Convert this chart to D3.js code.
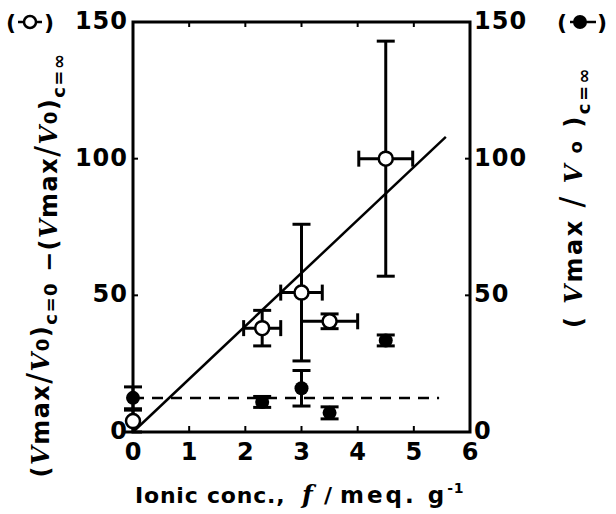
<!DOCTYPE html>
<html>
<head>
<meta charset="utf-8">
<script src="https://cdn.jsdelivr.net/npm/d3@7"></script>
<style>
  body { margin: 0; background: #fff; }
  text { font-family: "DejaVu Sans", sans-serif; font-weight: bold; fill: #000; }
</style>
</head>
<body>
<div id="chart"></div>
<script>
// ionic concentration (meq/g)
var openX    = [0, 2.3, 3.0, 3.5, 4.5];
var openY    = [4, 38, 51, 40.5, 100];
var openYErr = [4, 6.5, 25, 2.7, 43];
var openXErr = [0, 0.33, 0.37, 0.5, 0.48];

var fillX    = [0, 2.3, 3.0, 3.5, 4.5];
var fillY    = [12.5, 11, 16, 7, 33.5];
var fillYErr = [4, 2, 6.5, 2.2, 2];

var fitLine  = [[0, 0], [5.57, 108]];
var meanLine = [[0, 12.4], [5.45, 12.4]];

var xTicks = [0, 1, 2, 3, 4, 5, 6];
var yTicks = [0, 50, 100, 150];

function init(){
    var w = 616, h = 514;

    var x = d3.scaleLinear().domain([0, 6]).range([133, 470]);
    var y = d3.scaleLinear().domain([0, 150]).range([432, 22]);

    var svg = d3.select("#chart").append("svg")
                .attr("width", w)
                .attr("height", h);

    // frame
    svg.append("rect")
        .attr("x", x(0)).attr("y", y(150))
        .attr("width", x(6) - x(0)).attr("height", y(0) - y(150))
        .attr("fill", "none").attr("stroke", "#000").attr("stroke-width", 3);

    // inward ticks
    var inner = xTicks.filter(function(d){ return d > 0 && d < 6; });
    svg.selectAll("line.xb").data(inner).enter().append("line")
        .attr("x1", function(d){ return x(d); }).attr("x2", function(d){ return x(d); })
        .attr("y1", y(0)).attr("y2", y(0) - 6)
        .attr("stroke", "#000").attr("stroke-width", 2);
    svg.selectAll("line.xt").data(inner).enter().append("line")
        .attr("x1", function(d){ return x(d); }).attr("x2", function(d){ return x(d); })
        .attr("y1", y(150)).attr("y2", y(150) + 5)
        .attr("stroke", "#000").attr("stroke-width", 2);
    var yin = yTicks.filter(function(d){ return d > 0 && d < 150; });
    svg.selectAll("line.yl").data(yin).enter().append("line")
        .attr("x1", x(0)).attr("x2", x(0) + 5)
        .attr("y1", function(d){ return y(d); }).attr("y2", function(d){ return y(d); })
        .attr("stroke", "#000").attr("stroke-width", 2);
    svg.selectAll("line.yr").data(yin).enter().append("line")
        .attr("x1", x(6)).attr("x2", x(6) - 5)
        .attr("y1", function(d){ return y(d); }).attr("y2", function(d){ return y(d); })
        .attr("stroke", "#000").attr("stroke-width", 2);

    // tick labels
    svg.selectAll("text.xl").data(xTicks).enter().append("text")
        .attr("x", function(d){ return x(d); }).attr("y", 460)
        .attr("text-anchor", "middle").attr("font-size", 24)
        .text(function(d){ return d; });
    svg.selectAll("text.ylL").data(yTicks).enter().append("text")
        .attr("x", x(0) - 5).attr("y", function(d){ return y(d) + 7; })
        .attr("text-anchor", "end").attr("font-size", 24).attr("letter-spacing", 1)
        .text(function(d){ return d; });
    svg.selectAll("text.ylR").data(yTicks).enter().append("text")
        .attr("x", x(6) + 4).attr("y", function(d){ return y(d) + 7; })
        .attr("text-anchor", "start").attr("font-size", 24).attr("letter-spacing", 1)
        .text(function(d){ return d; });

    var line = d3.line()
        .x(function(d){ return x(d[0]); })
        .y(function(d){ return y(d[1]); });

    svg.append("path").datum(fitLine).attr("d", line)
        .attr("fill", "none").attr("stroke", "#000").attr("stroke-width", 2.5);
    svg.append("path").datum(meanLine).attr("d", line)
        .attr("fill", "none").attr("stroke", "#000").attr("stroke-width", 2.5)
        .attr("stroke-dasharray", "11,8");

    function errBars(xs, ys, ye, xe){
        var g = svg.append("g").attr("stroke", "#000").attr("stroke-width", 3);
        xs.forEach(function(xv, i){
            var cx = x(xv), cy = y(ys[i]);
            var top = y(ys[i] + ye[i]), bot = y(Math.max(0, ys[i] - ye[i]));
            if (ye[i] > 0) {
                g.append("line").attr("x1", cx).attr("x2", cx).attr("y1", top).attr("y2", bot);
                g.append("line").attr("x1", cx - 9).attr("x2", cx + 9).attr("y1", top).attr("y2", top);
                g.append("line").attr("x1", cx - 9).attr("x2", cx + 9).attr("y1", bot).attr("y2", bot);
            }
            if (xe && xe[i] > 0) {
                var l = x(xv - xe[i]), r = x(xv + xe[i]);
                g.append("line").attr("x1", l).attr("x2", r).attr("y1", cy).attr("y2", cy);
                g.append("line").attr("x1", l).attr("x2", l).attr("y1", cy - 8).attr("y2", cy + 8);
                g.append("line").attr("x1", r).attr("x2", r).attr("y1", cy - 8).attr("y2", cy + 8);
            }
        });
    }

    errBars(fillX, fillY, fillYErr, null);
    errBars(openX, openY, openYErr, openXErr);

    svg.selectAll("circle.f").data(fillX).enter().append("circle")
        .attr("cx", function(d){ return x(d); })
        .attr("cy", function(d, i){ return y(fillY[i]); })
        .attr("r", 7).attr("fill", "#000");
    svg.selectAll("circle.o").data(openX).enter().append("circle")
        .attr("cx", function(d){ return x(d); })
        .attr("cy", function(d, i){ return y(openY[i]); })
        .attr("r", 7).attr("fill", "#fff")
        .attr("stroke", "#000").attr("stroke-width", 2.5);

    // legend keys
    svg.append("text").attr("x", 6).attr("y", 30).attr("font-size", 22).text("(");
    svg.append("line").attr("x1", 18).attr("x2", 42).attr("y1", 22).attr("y2", 22)
        .attr("stroke", "#000").attr("stroke-width", 2.5);
    svg.append("circle").attr("cx", 30).attr("cy", 22).attr("r", 6)
        .attr("fill", "#fff").attr("stroke", "#000").attr("stroke-width", 2.5);
    svg.append("text").attr("x", 44).attr("y", 30).attr("font-size", 22).text(")");

    svg.append("text").attr("x", 557).attr("y", 30).attr("font-size", 22).text("(");
    svg.append("line").attr("x1", 570).attr("x2", 596).attr("y1", 22).attr("y2", 22)
        .attr("stroke", "#000").attr("stroke-width", 2.5);
    svg.append("circle").attr("cx", 580).attr("cy", 22).attr("r", 7).attr("fill", "#000");
    svg.append("text").attr("x", 597).attr("y", 30).attr("font-size", 22).text(")");

    // x title
    var xt = svg.append("text").attr("y", 503).attr("font-size", 22).attr("letter-spacing", 0.8);
    xt.append("tspan").attr("x", 135).text("Ionic conc.,");
    xt.append("tspan").attr("x", 302).attr("font-family", "DejaVu Serif")
        .attr("font-style", "italic").attr("font-size", 25).text("f");
    xt.append("tspan").attr("x", 324).text("/");
    xt.append("tspan").attr("x", 340).attr("font-size", 23).attr("letter-spacing", 3).text("meq. g");
    xt.append("tspan").attr("font-size", 14).attr("dy", -10).text("-1");

    // left title
    var lt = svg.append("text")
        .attr("transform", "translate(49,265) rotate(-90)")
        .attr("text-anchor", "middle").attr("font-size", 24).attr("letter-spacing", 1.5);
    function vPart(t, sub){
        t.append("tspan").text("(");
        t.append("tspan").attr("font-family", "DejaVu Serif").attr("font-style", "italic").text("V");
        t.append("tspan").text("max");
        t.append("tspan").attr("font-weight", "normal").attr("font-size", 32).text("/");
        t.append("tspan").attr("font-family", "DejaVu Serif").attr("font-style", "italic").text("V");
        t.append("tspan").attr("font-size", 18).text("0");
        t.append("tspan").text(")");
        t.append("tspan").attr("font-size", 18).attr("dy", 8).text(sub);
        t.append("tspan").attr("dy", -8).text("");
    }
    vPart(lt, "c=0");
    lt.append("tspan").text(" \u2212");
    vPart(lt, "c=\u221e");

    // right title
    var rt = svg.append("text")
        .attr("transform", "translate(582,197) rotate(-90)")
        .attr("text-anchor", "middle").attr("font-size", 24).attr("letter-spacing", 2.5);
    rt.append("tspan").text("( ");
    rt.append("tspan").attr("font-family", "DejaVu Serif").attr("font-style", "italic").text("V");
    rt.append("tspan").text("max ");
    rt.append("tspan").attr("font-weight", "normal").attr("font-size", 32).text("/");
    rt.append("tspan").attr("font-family", "DejaVu Serif").attr("font-style", "italic").text(" V");
    rt.append("tspan").attr("font-size", 18).text(" o");
    rt.append("tspan").text(" )");
    rt.append("tspan").attr("font-size", 18).attr("dy", 8).text("c=\u221e");
}
window.onload = init;
</script>
</body>
</html>
